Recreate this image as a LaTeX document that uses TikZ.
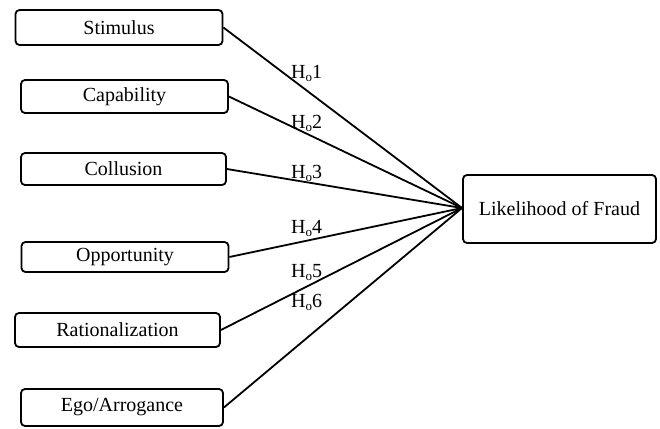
\documentclass[tikz,border=0pt]{standalone}
\usepackage{fontspec}
\setmainfont{Liberation Serif}
\begin{document}
\begin{tikzpicture}[x=1pt,y=-1pt,
  box/.style={draw=black, line width=1.8pt, rounded corners=4pt, inner sep=0pt,
    font=\fontsize{20}{24}\selectfont},
  conn/.style={line width=1.8pt},
  hlab/.style={anchor=base west, inner sep=0pt, font=\fontsize{20}{24}\selectfont}]
\useasboundingbox (0,0) rectangle (660,428);
\newcommand{\hyp}[1]{H\raisebox{-0.35ex}{\fontsize{13}{13}\selectfont o}#1}
\node[box, minimum width=207pt, minimum height=35pt] (stim) at (119,27.5) {Stimulus};
\node[box, minimum width=207pt, minimum height=33pt] (cap) at (124.5,96.5) {Capability};
\node[box, minimum width=205pt, minimum height=32pt] (col) at (123.5,169) {Collusion};
\node[box, minimum width=207pt, minimum height=30pt] (opp) at (125,257) {Opportunity};
\node[box, minimum width=205pt, minimum height=34pt] (rat) at (117.5,330) {Rationalization};
\node[box, minimum width=202pt, minimum height=37pt] (ego) at (122,407.5) {Ego/Arrogance};
\node[box, minimum width=193pt, minimum height=68pt] (lik) at (559.5,209) {Likelihood of Fraud};
\coordinate (hub) at (462,208);
\foreach \n in {stim,cap,col,opp,rat,ego}{\draw[conn] (\n.east) -- (hub);}
\node[hlab] (h1) at (291,78) {\hyp{1}};
\node[hlab] (h2) at (291,128) {\hyp{2}};
\node[hlab] (h3) at (291,178) {\hyp{3}};
\node[hlab] (h4) at (291,233) {\hyp{4}};
\node[hlab] (h5) at (291,277) {\hyp{5}};
\node[hlab] (h6) at (291,307) {\hyp{6}};
\end{tikzpicture}
\end{document}
